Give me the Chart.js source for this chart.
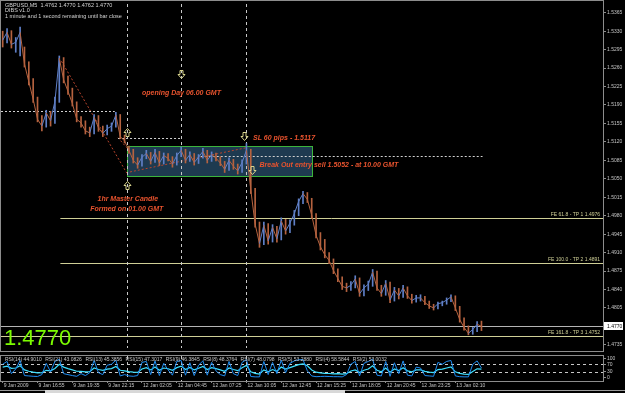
<!DOCTYPE html>
<html>
<head>
<meta charset="utf-8">
<script src="https://cdn.jsdelivr.net/npm/chart.js@4.4.0/dist/chart.umd.min.js"></script>
<style>
html, body { margin: 0; padding: 0; background: #000; }
#wrap { position: relative; width: 625px; height: 393px; overflow: hidden; background: #000; }
#precio { position: absolute; left: 0; top: 0; }
#rsi { position: absolute; left: 0; top: 352px; }
</style>
</head>
<body>
<div id="wrap">
  <canvas id="precio" width="625" height="352"></canvas>
  <canvas id="rsi" width="625" height="41"></canvas>
</div>
<script>
// GBPUSD M5 - un punto cada 4 velas
const paso = 4;
const cierres = [
    1.5313, 1.5328, 1.5305, 1.5309, 1.5328, 1.5268, 1.5234, 1.5201, 1.5163, 1.5150,
    1.5175, 1.5160, 1.5197, 1.5279, 1.5238, 1.5216, 1.5193, 1.5163, 1.5156, 1.5141,
    1.5137, 1.5167, 1.5147, 1.5136, 1.5145, 1.5150, 1.5171, 1.5130, 1.5122, 1.5104,
    1.5085, 1.5076, 1.5091, 1.5098, 1.5083, 1.5100, 1.5080, 1.5094, 1.5089, 1.5078,
    1.5094, 1.5104, 1.5085, 1.5096, 1.5081, 1.5091, 1.5102, 1.5085, 1.5096, 1.5089,
    1.5080, 1.5068, 1.5085, 1.5074, 1.5065, 1.5081, 1.5104, 1.5029, 1.4964, 1.4927,
    1.4962, 1.4932, 1.4958, 1.4936, 1.4970, 1.4951, 1.4966, 1.4984, 1.5007, 1.5022,
    1.5011, 1.4981, 1.4943, 1.4921, 1.4906, 1.4895, 1.4876, 1.4861, 1.4846, 1.4843,
    1.4848, 1.4860, 1.4832, 1.4843, 1.4850, 1.4873, 1.4843, 1.4832, 1.4852, 1.4820,
    1.4839, 1.4828, 1.4843, 1.4828, 1.4819, 1.4824, 1.4824, 1.4815, 1.4809, 1.4805,
    1.4813, 1.4815, 1.4820, 1.4826, 1.4805, 1.4783, 1.4768, 1.4757, 1.4764, 1.4774,
    1.4770
];
const maximos = [
    1.5330, 1.5335, 1.5331, 1.5318, 1.5338, 1.5300, 1.5272, 1.5240, 1.5205, 1.5170,
    1.5180, 1.5178, 1.5205, 1.5283, 1.5280, 1.5245, 1.5222, 1.5196, 1.5168, 1.5160,
    1.5148, 1.5172, 1.5170, 1.5150, 1.5152, 1.5156, 1.5176, 1.5172, 1.5133, 1.5112,
    1.5106, 1.5090, 1.5096, 1.5104, 1.5100, 1.5106, 1.5102, 1.5099, 1.5098, 1.5092,
    1.5099, 1.5110, 1.5106, 1.5101, 1.5098, 1.5096, 1.5108, 1.5104, 1.5101, 1.5099,
    1.5092, 1.5083, 1.5090, 1.5087, 1.5078, 1.5086, 1.5117, 1.5106, 1.5032, 1.4968,
    1.4968, 1.4965, 1.4963, 1.4960, 1.4976, 1.4973, 1.4972, 1.4990, 1.5012, 1.5026,
    1.5024, 1.5013, 1.4984, 1.4948, 1.4935, 1.4910, 1.4898, 1.4879, 1.4864, 1.4852,
    1.4855, 1.4866, 1.4862, 1.4849, 1.4856, 1.4878, 1.4875, 1.4848, 1.4857, 1.4854,
    1.4844, 1.4842, 1.4848, 1.4845, 1.4831, 1.4829, 1.4830, 1.4827, 1.4818, 1.4812,
    1.4816, 1.4818, 1.4824, 1.4830, 1.4828, 1.4808, 1.4786, 1.4771, 1.4768, 1.4779,
    1.4780
];
const minimos = [
    1.5300, 1.5308, 1.5298, 1.5290, 1.5283, 1.5262, 1.5228, 1.5195, 1.5158, 1.5141,
    1.5148, 1.5150, 1.5155, 1.5195, 1.5232, 1.5210, 1.5188, 1.5158, 1.5148, 1.5135,
    1.5130, 1.5135, 1.5140, 1.5130, 1.5133, 1.5140, 1.5148, 1.5126, 1.5118, 1.5098,
    1.5080, 1.5070, 1.5074, 1.5088, 1.5078, 1.5081, 1.5075, 1.5078, 1.5084, 1.5072,
    1.5076, 1.5092, 1.5080, 1.5083, 1.5076, 1.5079, 1.5089, 1.5080, 1.5083, 1.5084,
    1.5075, 1.5062, 1.5066, 1.5068, 1.5059, 1.5062, 1.5078, 1.5022, 1.4958, 1.4920,
    1.4925, 1.4926, 1.4930, 1.4930, 1.4934, 1.4945, 1.4948, 1.4962, 1.4980, 1.5003,
    1.5005, 1.4975, 1.4938, 1.4915, 1.4900, 1.4889, 1.4870, 1.4855, 1.4840, 1.4836,
    1.4838, 1.4843, 1.4827, 1.4828, 1.4838, 1.4846, 1.4838, 1.4827, 1.4829, 1.4815,
    1.4818, 1.4822, 1.4825, 1.4823, 1.4814, 1.4816, 1.4818, 1.4811, 1.4804, 1.4801,
    1.4803, 1.4809, 1.4812, 1.4817, 1.4800, 1.4778, 1.4763, 1.4754, 1.4755, 1.4760,
    1.4762
];
const rsi14 = [
    55, 60, 48, 50, 62, 40, 33, 28, 24, 25, 38, 35, 48, 70, 55, 47, 40, 33, 32, 30,
    31, 50, 42, 38, 44, 47, 58, 38, 35, 31, 28, 27, 45, 52, 40, 55, 38, 50, 46, 38,
    52, 60, 42, 53, 40, 49, 58, 42, 52, 47, 40, 33, 50, 42, 36, 51, 64, 30, 22, 18,
    40, 30, 42, 33, 55, 44, 52, 60, 68, 72, 62, 40, 28, 24, 22, 21, 19, 20, 18, 20,
    34, 40, 26, 38, 45, 62, 38, 30, 50, 28, 45, 36, 52, 35, 30, 40, 40, 32, 28, 26,
    42, 44, 50, 56, 30, 22, 18, 16, 32, 46, 44
];
const rsi2 = [
    70, 85, 20, 45, 90, 10, 8, 6, 5, 15, 75, 30, 85, 97, 20, 15, 10, 6, 20, 10,
    25, 90, 25, 15, 65, 70, 92, 8, 15, 8, 6, 10, 80, 85, 15, 88, 10, 75, 40, 12,
    85, 90, 12, 78, 10, 65, 88, 12, 80, 35, 15, 8, 85, 20, 10, 80, 95, 5, 3, 3,
    85, 15, 80, 20, 92, 25, 75, 88, 94, 95, 35, 8, 4, 5, 6, 5, 4, 4, 3, 15,
    70, 85, 8, 75, 85, 97, 12, 8, 85, 6, 78, 20, 88, 12, 8, 55, 50, 10, 8, 6,
    80, 70, 85, 90, 8, 4, 3, 3, 70, 88, 50
];
const etiquetasTiempo = ['9 Jan 2009', '9 Jan 16:55', '9 Jan 19:35', '9 Jan 22:15', '12 Jan 02:05',
    '12 Jan 04:45', '12 Jan 07:25', '12 Jan 10:05', '12 Jan 12:45', '12 Jan 15:25',
    '12 Jan 18:05', '12 Jan 20:45', '12 Jan 23:25', '13 Jan 02:10'];
const velasEtiqueta = 32;
const preciosEje = [1.5365, 1.5330, 1.5295, 1.5260, 1.5225, 1.5190, 1.5155, 1.5120, 1.5085,
    1.5050, 1.5015, 1.4980, 1.4945, 1.4910, 1.4875, 1.4840, 1.4805, 1.4770, 1.4735];
const nivelesRsi = [0, 30, 70, 100];
const fePrecios = [1.4976, 1.4891, 1.4752];
const feTextos = ['FE 61.8 - TP 1 1.4976', 'FE 100.0 - TP 2 1.4891', 'FE 161.8 - TP 3 1.4752'];
const precioActual = 1.4770;
const cabecera = ['GBPUSD,M5  1.4762 1.4770 1.4762 1.4770', 'DIBS v1.0',
    '1 minute and 1 second remaining until bar close'];
const rsiPeriodos = [14, 21, 13, 15, 9, 8, 7, 5, 4, 2];
const rsiValores = ['44.9010', '43.0826', '45.3856', '47.3017', '46.3845', '48.3764',
    '48.0798', '53.2880', '58.5844', '53.0032'];

// objetos dibujados sobre el grafico (en velas / precio)
const caja = { desde: 114, hasta: 284, alto: 1.5112, bajo: 1.5056 };
const verticales = [114, 164, 224];
const punteadas = [[-2, 103, 1.5178], [106, 164, 1.5127], [182, 441, 1.5093]];
const feDesde = [53, 53, -2];
const tendencias = [[54, 1.5273, 114, 1.5061], [106, 1.5128, 114, 1.5109], [117, 1.5063, 224, 1.5109]];
const textosRojos = [
    ['opening Day 06.00 GMT', 128, 1.5212, 'left'],
    ['SL 60 pips - 1.5117', 230, 1.5128, 'left'],
    ['Break Out entry sell 1.5052 - at 10.00 GMT', 236, 1.5076, 'left'],
    ['1hr Master Candle', 115, 1.5012, 'center'],
    ['Formed on 01.00 GMT', 114, 1.4992, 'center']
];
const flechas = [[164, 1.5249, true], [114, 1.5139, false], [222, 1.5132, true], [114, 1.5039, false], [229, 1.5067, true]];

const xMin = -1.56, xMax = 551.7;
const yMin = 1.4729, yMax = 1.53816;

const azul = '#5f7fc6', naranja = '#b5623f', gris = '#8c8c8c', caqui = '#cfcf96';
const fuente = "'Liberation Sans', Arial, sans-serif";
Chart.defaults.font.family = fuente;

let puntos = cierres.map((c, i) => ({ x: i * paso, y: c }));
let rangos = cierres.map((c, i) => ({ x: i * paso, y: [minimos[i], maximos[i]] }));
let coloresVela = cierres.map((c, i) => (i > 0 && c >= cierres[i - 1]) ? azul : naranja);

function flecha(ctx, x, y, abajo) {
    let s = abajo ? 1 : -1;
    ctx.beginPath();
    ctx.moveTo(x - 1.5, y - 4 * s);
    ctx.lineTo(x + 1.5, y - 4 * s);
    ctx.lineTo(x + 1.5, y);
    ctx.lineTo(x + 3.5, y);
    ctx.lineTo(x, y + 4 * s);
    ctx.lineTo(x - 3.5, y);
    ctx.lineTo(x - 1.5, y);
    ctx.closePath();
    ctx.stroke();
}

function lineaVertical(chart) {
    let ctx = chart.ctx, a = chart.chartArea;
    ctx.save();
    ctx.strokeStyle = '#c8c8c8';
    ctx.lineWidth = 1;
    ctx.setLineDash([3, 3]);
    verticales.forEach(v => {
        let x = Math.round(chart.scales.x.getPixelForValue(v)) + 0.5;
        ctx.beginPath();
        ctx.moveTo(x, a.top);
        ctx.lineTo(x, a.bottom);
        ctx.stroke();
    });
    ctx.restore();
}

const dibujosPrecio = {
    id: 'dibujosPrecio',
    beforeDatasetsDraw(chart) {
        let ctx = chart.ctx, a = chart.chartArea;
        let X = v => chart.scales.x.getPixelForValue(v);
        let Y = v => chart.scales.y.getPixelForValue(v);
        ctx.save();
        // caja de la vela maestra
        let x1 = Math.round(X(caja.desde)) + 0.5, x2 = Math.round(X(caja.hasta)) + 0.5;
        let y1 = Math.round(Y(caja.alto)) + 0.5, y2 = Math.round(Y(caja.bajo)) + 0.5;
        ctx.fillStyle = '#1e3a50';
        ctx.fillRect(x1, y1, x2 - x1, y2 - y1);
        ctx.strokeStyle = '#3cb43c';
        ctx.lineWidth = 1;
        ctx.strokeRect(x1, y1, x2 - x1, y2 - y1);
        // niveles FE
        ctx.strokeStyle = caqui;
        fePrecios.forEach((p, k) => {
            let y = Math.round(Y(p)) + 0.5;
            ctx.beginPath();
            ctx.moveTo(Math.max(a.left, X(feDesde[k])), y);
            ctx.lineTo(a.right, y);
            ctx.stroke();
        });
        // linea del precio actual
        ctx.strokeStyle = '#b4b4b4';
        let yb = Math.round(Y(precioActual)) + 0.5;
        ctx.beginPath();
        ctx.moveTo(a.left, yb);
        ctx.lineTo(a.right, yb);
        ctx.stroke();
        // lineas de tendencia punteadas
        ctx.strokeStyle = '#b8442c';
        ctx.setLineDash([2, 2]);
        tendencias.forEach(t => {
            ctx.beginPath();
            ctx.moveTo(X(t[0]), Y(t[1]));
            ctx.lineTo(X(t[2]), Y(t[3]));
            ctx.stroke();
        });
        // horizontales punteadas blancas
        ctx.strokeStyle = '#d0d0d0';
        ctx.setLineDash([2, 2]);
        punteadas.forEach(h => {
            let y = Math.round(Y(h[2])) + 0.5;
            ctx.beginPath();
            ctx.moveTo(Math.max(a.left, X(h[0])), y);
            ctx.lineTo(X(h[1]), y);
            ctx.stroke();
        });
        ctx.restore();
        lineaVertical(chart);
    },
    afterDatasetsDraw(chart) {
        let ctx = chart.ctx, a = chart.chartArea;
        let X = v => chart.scales.x.getPixelForValue(v);
        let Y = v => chart.scales.y.getPixelForValue(v);
        ctx.save();
        // textos FE
        ctx.font = '5px ' + fuente;
        ctx.fillStyle = caqui;
        ctx.textAlign = 'right';
        ctx.textBaseline = 'alphabetic';
        fePrecios.forEach((p, k) => ctx.fillText(feTextos[k], a.right - 3, Y(p) - 2));
        // textos rojos
        ctx.font = 'italic bold 7px ' + fuente;
        ctx.fillStyle = '#e8532e';
        ctx.textBaseline = 'middle';
        textosRojos.forEach(t => {
            ctx.textAlign = t[3];
            ctx.fillText(t[0], X(t[1]), Y(t[2]));
        });
        // flechas
        ctx.strokeStyle = '#d8d48c';
        ctx.lineWidth = 1;
        flechas.forEach(f => flecha(ctx, Math.round(X(f[0])) + 0.5, Math.round(Y(f[1])) + 0.5, f[2]));
        // cabecera
        ctx.font = '5.5px ' + fuente;
        ctx.fillStyle = '#d4d4d4';
        ctx.textAlign = 'left';
        ctx.textBaseline = 'middle';
        cabecera.forEach((t, k) => ctx.fillText(t, 5, 5 + k * 5.9));
        // precio grande
        ctx.font = '22px ' + fuente;
        ctx.fillStyle = '#7cfc00';
        ctx.textBaseline = 'alphabetic';
        ctx.fillText(precioActual.toFixed(4), 4, 345);
        ctx.restore();
    },
    afterDraw(chart) {
        let ctx = chart.ctx, a = chart.chartArea;
        let y = chart.scales.y.getPixelForValue(precioActual);
        ctx.save();
        ctx.strokeStyle = gris;
        ctx.lineWidth = 1;
        ctx.strokeRect(0.5, 0.5, a.right, chart.height - 1);
        ctx.fillStyle = '#ffffff';
        ctx.fillRect(a.right + 1, Math.round(y) - 4, 19, 8);
        ctx.fillStyle = '#000';
        ctx.font = '5px ' + fuente;
        ctx.textBaseline = 'middle';
        ctx.fillText(precioActual.toFixed(4), a.right + 4, y);
        ctx.restore();
    }
};

const dibujosRsi = {
    id: 'dibujosRsi',
    beforeDatasetsDraw(chart) {
        let ctx = chart.ctx, a = chart.chartArea;
        ctx.save();
        ctx.strokeStyle = '#c8c8c8';
        ctx.setLineDash([3, 3]);
        [70, 30].forEach(n => {
            let y = Math.round(chart.scales.y.getPixelForValue(n)) + 0.5;
            ctx.beginPath();
            ctx.moveTo(a.left, y);
            ctx.lineTo(a.right, y);
            ctx.stroke();
        });
        ctx.restore();
        lineaVertical(chart);
    },
    afterDatasetsDraw(chart) {
        let ctx = chart.ctx, a = chart.chartArea;
        ctx.save();
        ctx.font = '5px ' + fuente;
        ctx.fillStyle = '#c8c8c8';
        ctx.textBaseline = 'middle';
        let x = 5;
        rsiPeriodos.forEach((p, k) => {
            let t = 'RSI(' + p + ') ' + rsiValores[k];
            ctx.fillText(t, x, a.top + 4);
            x += ctx.measureText(t).width + 3.5;
        });
        ctx.strokeStyle = gris;
        ctx.lineWidth = 1;
        ctx.strokeRect(0.5, a.top - 0.5, a.right, a.bottom - a.top + 1);
        ctx.fillStyle = '#9a9a9a';
        ctx.fillRect(0, 38, 625, 1);
        ctx.fillStyle = '#d8d8d8';
        ctx.fillRect(45, 38, 300, 3);
        ctx.restore();
    }
};

new Chart(document.getElementById('precio'), {
    type: 'bar',
    data: {
        datasets: [{
            type: 'line',
            data: puntos,
            borderWidth: 1,
            borderColor: naranja,
            segment: { borderColor: c => c.p1.parsed.y >= c.p0.parsed.y ? azul : naranja },
            pointRadius: 0,
            tension: 0
        }, {
            type: 'bar',
            data: rangos,
            backgroundColor: coloresVela,
            barThickness: 1
        }]
    },
    options: {
        responsive: false,
        animation: false,
        layout: { padding: { left: 1, top: 1, right: 0, bottom: 1 } },
        plugins: { legend: { display: false }, tooltip: { enabled: false } },
        scales: {
            x: { type: 'linear', offset: false, min: xMin, max: xMax, display: false },
            y: {
                position: 'right',
                min: yMin,
                max: yMax,
                afterBuildTicks: s => { s.ticks = preciosEje.map(v => ({ value: v })); },
                afterFit: s => { s.width = 22; },
                ticks: { font: { size: 5 }, color: '#c4c4c4', padding: 1, autoSkip: false, callback: v => v.toFixed(4) },
                grid: { drawOnChartArea: false, tickLength: 3, color: gris },
                border: { color: gris }
            }
        }
    },
    plugins: [dibujosPrecio]
});

new Chart(document.getElementById('rsi'), {
    type: 'line',
    data: {
        datasets: [{
            data: rsi2.map((v, i) => ({ x: i * paso, y: v })),
            borderColor: '#1e8cf0',
            borderWidth: 1,
            pointRadius: 0
        }, {
            data: rsi14.map((v, i) => ({ x: i * paso, y: v })),
            borderColor: '#3ee0ff',
            borderWidth: 1.2,
            pointRadius: 0
        }]
    },
    options: {
        responsive: false,
        animation: false,
        layout: { padding: { left: 1, top: 1, right: 0, bottom: 0 } },
        plugins: { legend: { display: false }, tooltip: { enabled: false } },
        scales: {
            x: {
                type: 'linear',
                offset: false,
                min: xMin,
                max: xMax,
                afterBuildTicks: s => { s.ticks = etiquetasTiempo.map((t, k) => ({ value: k * velasEtiqueta })); },
                afterFit: s => { s.height = 12; },
                ticks: {
                    font: { size: 5 }, color: '#c4c4c4', padding: 0, autoSkip: false,
                    maxRotation: 0, minRotation: 0, align: 'start', labelOffset: 1,
                    callback: (v, i) => etiquetasTiempo[i]
                },
                grid: { drawOnChartArea: false, tickLength: 2, color: gris },
                border: { color: gris }
            },
            y: {
                position: 'right',
                min: -19,
                max: 114,
                afterBuildTicks: s => { s.ticks = nivelesRsi.map(v => ({ value: v })); },
                afterFit: s => { s.width = 22; },
                ticks: { font: { size: 5 }, color: '#c4c4c4', padding: 1, autoSkip: false },
                grid: { drawOnChartArea: false, tickLength: 3, color: gris },
                border: { color: gris }
            }
        }
    },
    plugins: [dibujosRsi]
});
</script>
</body>
</html>
